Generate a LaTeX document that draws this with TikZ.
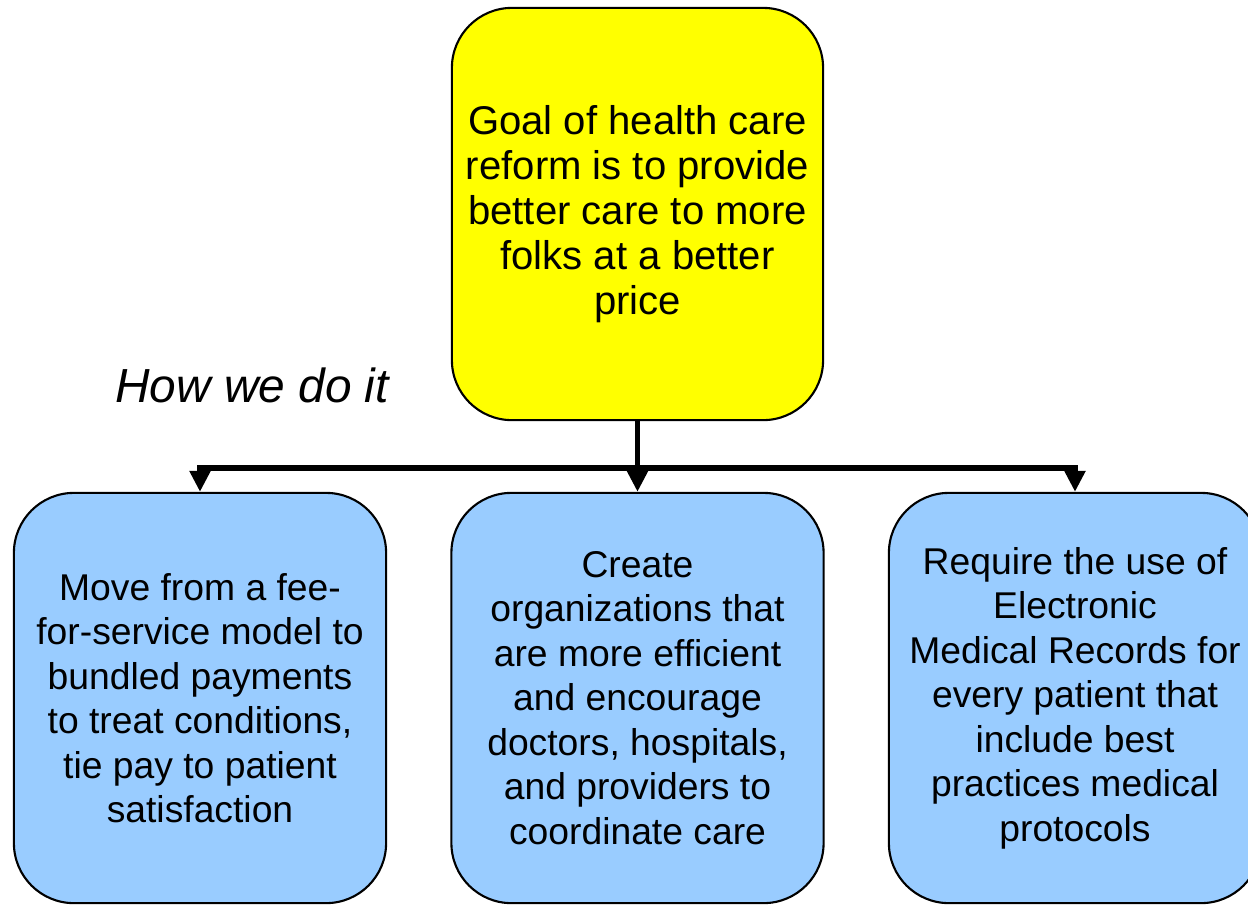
\documentclass[tikz,border=0pt]{standalone}
\usepackage{fontspec}
\setmainfont{Liberation Sans}
\usetikzlibrary{arrows.meta}
\definecolor{skyblue}{HTML}{99CCFF}
\definecolor{goalyellow}{HTML}{FFFF00}
\tikzset{
	goalbox/.style={draw,line width=0.6pt,fill=goalyellow,rounded corners=0.6cm,minimum width=3.71cm,minimum height=4.12cm,align=center},
	waybox/.style={draw,line width=0.6pt,fill=skyblue,rounded corners=0.6cm,minimum width=3.72cm,minimum height=4.1cm,align=center,font=\fontsize{10.6}{12.65}\selectfont},
	link/.style={line width=1.7pt}
}
\begin{document}
\begin{tikzpicture}[x=0.01cm,y=-0.01cm,>={Triangle[width=0.2cm,length=0.21cm]},font=\fontsize{11.4}{12.8}\selectfont]
	\useasboundingbox (0,0) rectangle (1248,905);
	\node[goalbox] (goal) at (637.5,214) {Goal of health care\\reform is to provide\\better care to more\\folks at a better\\price};
	\node[font=\fontsize{13.6}{15}\selectfont\itshape] (how) at (252,385) {How we do it};
	\node[waybox] (fee) at (200,698) {Move from a fee-\\for-service model to\\bundled payments\\to treat conditions,\\tie pay to patient\\satisfaction};
	\node[waybox] (org) at (637.5,698) {Create\\organizations that\\are more efficient\\and encourage\\doctors, hospitals,\\and providers to\\coordinate care};
	\node[waybox] (emr) at (1075,698) {Require the use of\\Electronic\\Medical Records for\\every patient that\\include best\\practices medical\\protocols};
	\draw[link] (goal.south) -- ++(0,47) coordinate (split);
	\draw[link,->] (split) -| (fee.north);
	\draw[link,->] (split) -- (org.north);
	\draw[link,->] (split) -| (emr.north);
\end{tikzpicture}
\end{document}
